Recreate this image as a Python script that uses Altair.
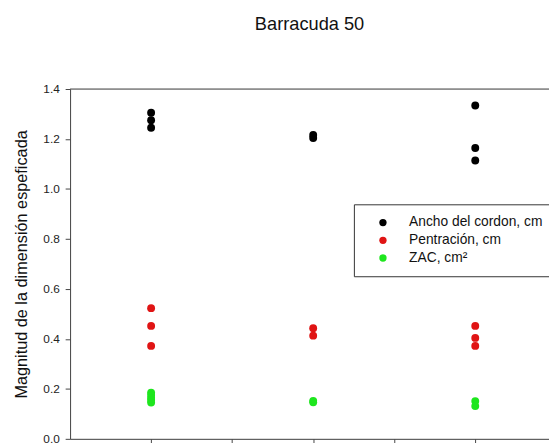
import altair as alt
import pandas as pd

# ---- data ----
series_names = ["Ancho del cordon, cm", "Pentración, cm", "ZAC, cm²"]
series_colors = ["#000000", "#e01414", "#1ee61e"]

groups_ancho = [1, 1, 1, 2, 2, 3, 3, 3]
values_ancho = [1.305, 1.275, 1.245, 1.216, 1.204, 1.334, 1.164, 1.114]

groups_pen = [1, 1, 1, 2, 2, 3, 3, 3]
values_pen = [0.523, 0.452, 0.372, 0.443, 0.413, 0.452, 0.404, 0.372]

groups_zac = [1, 1, 1, 1, 1, 2, 2, 3, 3]
values_zac = [0.185, 0.175, 0.164, 0.155, 0.145, 0.152, 0.146, 0.151, 0.131]

y_ticks = [0.0, 0.2, 0.4, 0.6, 0.8, 1.0, 1.2, 1.4]
x_ticks = [1, 1.5, 2, 2.5, 3]

rows = []
for g, v in zip(groups_ancho, values_ancho):
    rows.append({"grupo": g, "valor": v, "serie": series_names[0]})
for g, v in zip(groups_pen, values_pen):
    rows.append({"grupo": g, "valor": v, "serie": series_names[1]})
for g, v in zip(groups_zac, values_zac):
    rows.append({"grupo": g, "valor": v, "serie": series_names[2]})
df = pd.DataFrame(rows)

FONT = "Liberation Sans"
AX = "#444444"

xscale = alt.Scale(domain=[0.5, 3.455], nice=False, zero=False)
yscale = alt.Scale(domain=[0, 1.4], nice=False)

points = alt.Chart(df).mark_circle(size=64, opacity=1).encode(
    x=alt.X("grupo:Q", scale=xscale,
            axis=alt.Axis(values=x_ticks, labels=False, title=None, grid=False,
                          ticks=True, tickSize=5, domainColor=AX, tickColor=AX)),
    y=alt.Y("valor:Q", scale=yscale,
            axis=alt.Axis(values=y_ticks, format=".1f", grid=False,
                          title="Magnitud de la dimensión espeficada",
                          titleFontSize=16.5, titleFont=FONT, titleFontWeight="normal",
                          titleColor="#111111", titlePadding=14,
                          labelFontSize=12, labelFont=FONT, labelColor="#222222",
                          labelPadding=6, tickSize=5, domainColor=AX, tickColor=AX)),
    color=alt.Color("serie:N",
                    scale=alt.Scale(domain=series_names, range=series_colors),
                    legend=alt.Legend(title=None, orient="none", legendX=288, legendY=117,
                                      padding=11.5, strokeColor="#333333", fillColor="white",
                                      symbolType="circle", symbolSize=55,
                                      symbolOffset=11, labelOffset=19.5,
                                      labelFontSize=14, labelFont=FONT, labelColor="#111111",
                                      rowPadding=4)),
)

top_line = alt.Chart(pd.DataFrame({"y": [1.4]})).mark_rule(color=AX, strokeWidth=1).encode(
    y=alt.Y("y:Q", scale=yscale)
)

chart = alt.layer(top_line, points).properties(
    width=486,
    height=355,
    autosize=alt.AutoSizeParams(type="none"),
    padding={"left": 63, "top": 79, "right": 0, "bottom": 1},
    title=alt.TitleParams("Barracuda 50", fontSize=18.5, font=FONT, fontWeight="normal",
                          color="#111111", anchor="middle", offset=50),
).configure_view(stroke=None).configure(background="white")

chart.save("out.html", embed_options={"renderer": "svg", "actions": False})
